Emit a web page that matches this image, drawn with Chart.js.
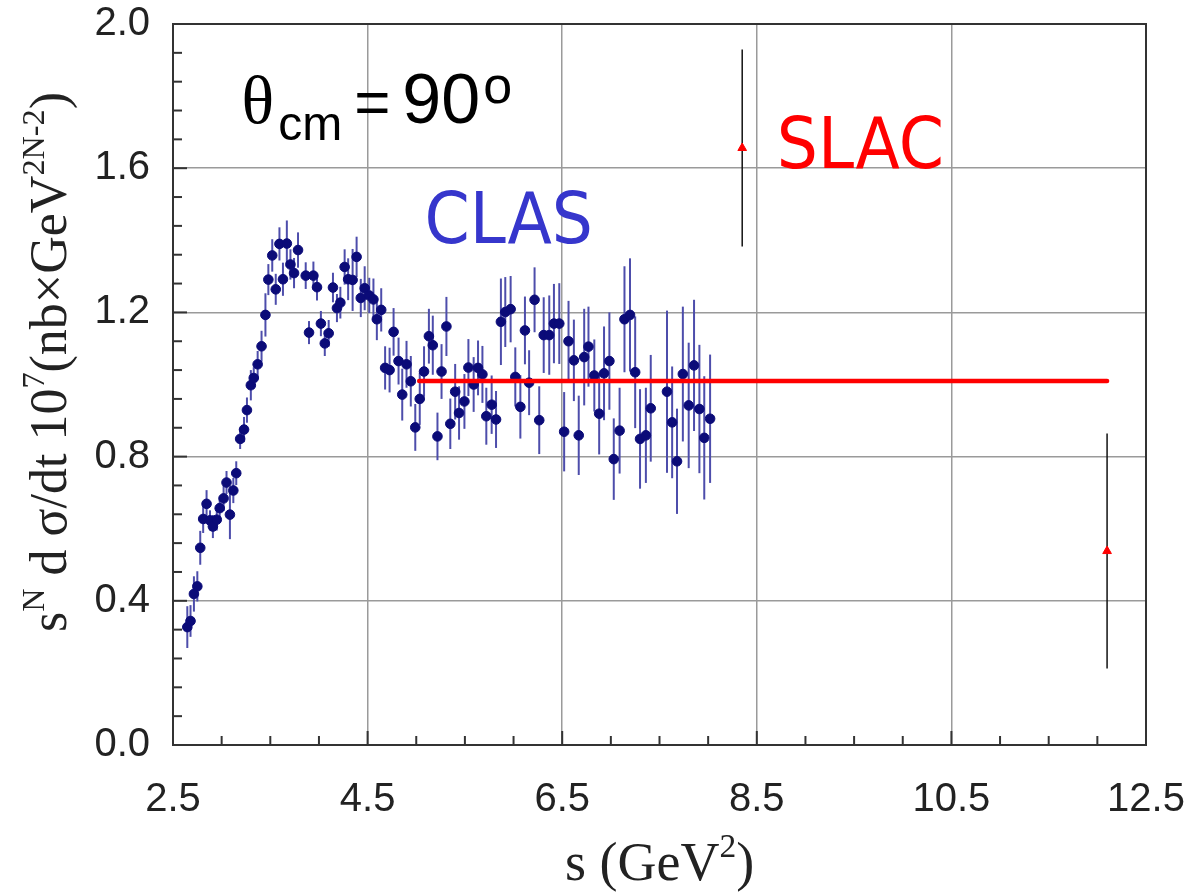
<!DOCTYPE html>
<html>
<head>
<meta charset="utf-8">
<script src="https://cdn.jsdelivr.net/npm/chart.js@4.4.1/dist/chart.umd.min.js"></script>
<style>
html, body { margin: 0; padding: 0; background: #fff; }
#wrap { width: 1184px; height: 893px; }
</style>
</head>
<body>
<div id="wrap"><canvas id="chart"></canvas></div>
<script>
// CLAS points (s in GeV^2, scaled cross section) and their errors
const clasS = [2.647, 2.68, 2.715, 2.75, 2.78, 2.81, 2.845, 2.88, 2.91, 2.95, 2.98, 3.02, 3.05, 3.085, 3.12, 3.15,
  3.19, 3.23, 3.26, 3.30, 3.33, 3.37, 3.41, 3.45, 3.48, 3.52, 3.556, 3.594, 3.63, 3.67, 3.707, 3.744, 3.785,
  3.864, 3.898, 3.943, 3.98, 4.02, 4.06, 4.10, 4.144, 4.185, 4.22, 4.264, 4.30, 4.346, 4.387, 4.43, 4.47, 4.517,
  4.56, 4.595, 4.64,
  4.68, 4.726, 4.767, 4.818, 4.856, 4.90, 4.944, 4.99, 5.036, 5.08, 5.13, 5.17, 5.218, 5.26, 5.31, 5.35, 5.40,
  5.44, 5.495, 5.536, 5.59, 5.635, 5.68, 5.72,
  5.775, 5.82, 5.87, 5.915, 5.97, 6.018, 6.07, 6.117, 6.16, 6.216, 6.264, 6.31, 6.367, 6.415, 6.47, 6.52, 6.565,
  6.62, 6.67, 6.726, 6.77,
  6.83, 6.88, 6.93, 6.985, 7.03, 7.09, 7.14, 7.197, 7.25, 7.30, 7.36, 7.41, 7.577, 7.63, 7.68, 7.74, 7.80, 7.855,
  7.91, 7.96, 8.02];
const clasY = [0.327, 0.344, 0.419, 0.44, 0.547, 0.627, 0.669, 0.623, 0.606, 0.625, 0.657, 0.684, 0.728, 0.639, 0.706, 0.754,
  0.849, 0.875, 0.929, 0.998, 1.018, 1.056, 1.106, 1.193, 1.291, 1.358, 1.264, 1.390, 1.292, 1.391, 1.333, 1.309, 1.373,
  1.302, 1.144, 1.302, 1.27, 1.169, 1.114, 1.142, 1.269, 1.212, 1.227, 1.326, 1.292, 1.29, 1.354, 1.24, 1.267, 1.247,
  1.236, 1.181, 1.207,
  1.046, 1.040, 1.146, 1.065, 0.972, 1.056, 1.009, 0.881, 0.960, 1.036, 1.134, 1.109, 0.856, 1.036, 1.161, 0.891, 0.980,
  0.921, 0.953, 1.047, 1.0, 1.046, 1.028, 0.912,
  0.944, 0.903, 1.174, 1.201, 1.209, 1.021, 0.938, 1.15, 1.005, 1.235, 0.901, 1.137, 1.137, 1.169, 1.169, 0.869, 1.12,
  1.067, 0.859, 1.076, 1.105,
  1.025, 0.919, 1.031, 1.065, 0.793, 0.872, 1.181, 1.193, 1.034, 0.849, 0.859, 0.934, 0.98, 0.895, 0.787, 1.029, 0.942, 1.053,
  0.932, 0.852, 0.905];
const clasErr = [0.058, 0.044, 0.049, 0.042, 0.047, 0.039, 0.038, 0.028, 0.032, 0.03, 0.032, 0.035, 0.032, 0.068, 0.035, 0.033,
  0.028, 0.035, 0.035, 0.042, 0.03, 0.037, 0.043, 0.06, 0.043, 0.045, 0.043, 0.046, 0.046, 0.064, 0.042, 0.042, 0.049,
  0.037, 0.032, 0.039, 0.037, 0.035, 0.035, 0.037, 0.041, 0.039, 0.044, 0.049, 0.058, 0.086, 0.056, 0.053, 0.061, 0.049,
  0.058, 0.058, 0.06,
  0.06, 0.062, 0.066, 0.065, 0.072, 0.065, 0.07, 0.065, 0.072, 0.07, 0.076, 0.082, 0.066, 0.076, 0.082, 0.07, 0.077,
  0.074, 0.076, 0.079, 0.076, 0.076, 0.079, 0.079,
  0.081, 0.079, 0.12, 0.097, 0.092, 0.082, 0.088, 0.094, 0.09, 0.09, 0.094, 0.105, 0.11, 0.11, 0.112, 0.11, 0.112,
  0.113, 0.11, 0.134, 0.111,
  0.10, 0.113, 0.13, 0.135, 0.113, 0.119, 0.147, 0.157, 0.155, 0.138, 0.132, 0.148, 0.225, 0.155, 0.146, 0.187, 0.174, 0.182,
  0.178, 0.171, 0.178];

// SLAC points
const slacS = [8.35, 12.1];
const slacY = [1.656, 0.538];
const slacErr = [0.273, 0.326];

// constant fit line
const fitS = [5.03, 12.1];
const fitY = [1.01, 1.01];

const xTicks = [2.5, 4.5, 6.5, 8.5, 10.5, 12.5];
const yTicks = [0.0, 0.4, 0.8, 1.2, 1.6, 2.0];

const toPoints = (xs, ys) => xs.map((v, i) => ({x: v, y: ys[i]}));

const errorBars = {
    id: 'errorBars',
    beforeDatasetsDraw(chart) {
        const {ctx, scales: {x, y}} = chart;
        ctx.save();
        chart.data.datasets.forEach(ds => {
            if (!ds.errors) return;
            ctx.strokeStyle = ds.errorColor;
            ctx.lineWidth = ds.errorWidth;
            ds.data.forEach((p, i) => {
                const px = x.getPixelForValue(p.x);
                ctx.beginPath();
                ctx.moveTo(px, y.getPixelForValue(p.y - ds.errors[i]));
                ctx.lineTo(px, y.getPixelForValue(p.y + ds.errors[i]));
                ctx.stroke();
            });
        });
        ctx.restore();
    }
};

const frame = {
    id: 'frame',
    afterDraw(chart) {
        const {ctx, chartArea: a, scales: {x, y}} = chart;
        ctx.save();
        ctx.strokeStyle = '#333';
        ctx.lineWidth = 2;
        // minor + major ticks pointing inwards
        for (let v = 2.5; v <= 12.501; v += 0.5) {
            const px = x.getPixelForValue(v);
            const len = xTicks.includes(Math.round(v * 10) / 10) ? 14 : 9;
            ctx.beginPath();
            ctx.moveTo(px, a.bottom);
            ctx.lineTo(px, a.bottom - len);
            ctx.stroke();
        }
        for (let k = 0; k <= 25; k++) {
            const v = k * 0.08;
            const py = y.getPixelForValue(v);
            const len = k % 5 === 0 ? 14 : 9;
            ctx.beginPath();
            ctx.moveTo(a.left, py);
            ctx.lineTo(a.left + len, py);
            ctx.stroke();
        }
        ctx.strokeRect(a.left, a.top, a.right - a.left, a.bottom - a.top);
        ctx.restore();
    }
};

const labels = {
    id: 'labels',
    afterDraw(chart) {
        const {ctx, chartArea: a, scales: {x, y}} = chart;
        ctx.save();
        ctx.textBaseline = 'alphabetic';
        ctx.textAlign = 'left';

        // theta_cm = 90 deg
        let px = x.getPixelForValue(3.205);
        const by = y.getPixelForValue(1.725);
        ctx.fillStyle = '#000';
        ctx.font = '68px "Liberation Serif", serif';
        ctx.fillText('\u03b8', px, by);
        px += ctx.measureText('\u03b8').width + 4;
        ctx.font = '48px "Liberation Sans", Arial, sans-serif';
        ctx.fillText('cm', px, by + 17);
        px += ctx.measureText('cm').width + 12;
        ctx.font = '62px "Liberation Sans", Arial, sans-serif';
        ctx.fillText('=', px, by);
        px += ctx.measureText('=').width + 12;
        ctx.font = '70px "Liberation Sans", Arial, sans-serif';
        ctx.fillText('90', px, by);
        px += ctx.measureText('90').width + 3;
        ctx.font = '52px "Liberation Sans", Arial, sans-serif';
        ctx.fillText('o', px, by - 20);

        ctx.font = '72px "DejaVu Sans Condensed", "DejaVu Sans", sans-serif';
        ctx.fillStyle = '#3636cc';
        ctx.fillText('CLAS', x.getPixelForValue(5.085), y.getPixelForValue(1.392));
        ctx.fillStyle = '#ff0000';
        ctx.fillText('SLAC', x.getPixelForValue(8.705), y.getPixelForValue(1.60));

        // axis titles (serif, with superscripts)
        const serif = s => s + 'px "Liberation Serif", "Times New Roman", serif';
        const drawParts = (parts, size) => {
            let cx = 0;
            parts.forEach(([t, sup]) => {
                ctx.font = serif(sup ? size * 0.62 : size);
                ctx.fillText(t, cx, sup ? -size * 0.42 : 0);
                cx += ctx.measureText(t).width;
            });
        };
        ctx.fillStyle = '#222';
        ctx.save();
        ctx.translate(a.left - 107, a.bottom - 113);
        ctx.rotate(-Math.PI / 2);
        drawParts([['s', false], ['N', true], [' d \u03c3/dt 10', false], ['7', true],
            ['(nb\u00d7GeV', false], ['2N-2', true], [')', false]], 52);
        ctx.restore();

        ctx.save();
        ctx.translate(565, 880);
        drawParts([['s (GeV', false], ['2', true], [')', false]], 54);
        ctx.restore();

        ctx.restore();
    }
};

// keep tick labels from pushing the plot area inwards
const noOverhang = s => { s.paddingLeft = 0; s.paddingRight = 0; s.paddingTop = 0; s.paddingBottom = 0; };

new Chart(document.getElementById('chart').getContext('2d'), {
    type: 'scatter',
    data: {
        datasets: [
            {
                label: 'fit',
                data: toPoints(fitS, fitY),
                showLine: true,
                borderColor: '#ff0000',
                borderWidth: 4.5,
                borderCapStyle: 'round',
                pointRadius: 0,
                order: 0
            },
            {
                label: 'SLAC',
                data: toPoints(slacS, slacY),
                errors: slacErr,
                errorColor: '#111',
                errorWidth: 1.5,
                pointStyle: 'triangle',
                pointRadius: 5,
                backgroundColor: '#ff0000',
                borderColor: '#ff0000',
                borderWidth: 1,
                order: 1
            },
            {
                label: 'CLAS',
                data: toPoints(clasS, clasY),
                errors: clasErr,
                errorColor: '#4d4dab',
                errorWidth: 2,
                pointStyle: 'circle',
                pointRadius: 4.8,
                backgroundColor: '#0b0b78',
                borderColor: '#0b0b78',
                borderWidth: 1,
                order: 2
            }
        ]
    },
    options: {
        responsive: true,
        maintainAspectRatio: false,
        animation: false,
        layout: {padding: {top: 24, right: 38, left: 0, bottom: 0}},
        plugins: {legend: {display: false}, tooltip: {enabled: false}},
        scales: {
            x: {
                type: 'linear',
                min: 2.5,
                max: 12.5,
                afterBuildTicks: s => { s.ticks = xTicks.map(v => ({value: v})); },
                afterFit: s => { s.height = 148; noOverhang(s); },
                grid: {color: '#9a9a9a', lineWidth: 1.5, drawTicks: false},
                border: {display: false},
                ticks: {
                    padding: 31,
                    color: '#222',
                    font: {family: '"Liberation Sans", Arial, sans-serif', size: 40},
                    callback: v => v.toFixed(1)
                }
            },
            y: {
                type: 'linear',
                min: 0,
                max: 2,
                afterBuildTicks: s => { s.ticks = yTicks.map(v => ({value: v})); },
                afterFit: s => { s.width = 173; noOverhang(s); },
                grid: {color: '#9a9a9a', lineWidth: 1.5, drawTicks: false},
                border: {display: false},
                ticks: {
                    padding: 23,
                    color: '#222',
                    font: {family: '"Liberation Sans", Arial, sans-serif', size: 40},
                    callback: v => v.toFixed(1)
                }
            }
        }
    },
    plugins: [errorBars, frame, labels]
});
</script>
</body>
</html>
